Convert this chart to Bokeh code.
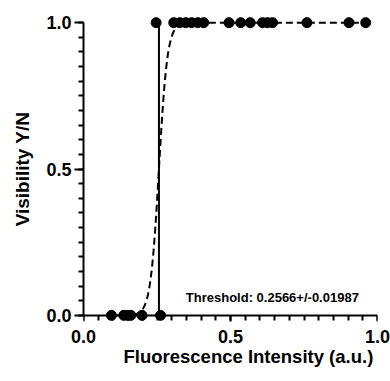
import numpy as np
from bokeh.plotting import figure
from bokeh.models import FixedTicker, Range1d, Label, LinearAxis, Title
from bokeh.embed import file_html
from bokeh.resources import INLINE

# ---- data ----
x_not_visible = [0.095, 0.137, 0.151, 0.161, 0.199, 0.262]
y_not_visible = [0, 0, 0, 0, 0, 0]
x_visible = [0.247, 0.307, 0.328, 0.348, 0.368, 0.389, 0.409, 0.495, 0.535,
             0.567, 0.609, 0.626, 0.643, 0.760, 0.903, 0.960]
y_visible = [1] * len(x_visible)

threshold = 0.2566
threshold_err = 0.01987
fit_width = 0.0145          # logistic slope parameter of the fitted curve
fit_x_min, fit_x_max = 0.095, 0.960

x_ticks = [0.0, 0.5, 1.0]
x_tick_labels = ["0.0", "0.5", "1.0"]
y_ticks = [0.0, 0.5, 1.0]
y_tick_labels = ["0.0", "0.5", "1.0"]
minor_step = 0.05
x_title = "Fluorescence Intensity (a.u.)"
y_title = "Visibility Y/N"

FONT = "Liberation Sans"

p = figure(width=390, height=381, output_backend="svg", toolbar_location=None,
           x_range=Range1d(0, 1.0), y_range=Range1d(-0.021, 1.021),
           min_border_left=83, min_border_right=13, min_border_top=16,
           min_border_bottom=60)
p.outline_line_color = None
p.grid.visible = False
p.background_fill_color = "white"

# fitted logistic curve
fx = np.linspace(fit_x_min, fit_x_max, 600)
fy = 1.0 / (1.0 + np.exp(-(fx - threshold) / fit_width))
p.line(fx, fy, line_color="black", line_width=2, line_dash="7 4")

# threshold line
p.segment(x0=[threshold], y0=[0], x1=[threshold], y1=[1],
          line_color="black", line_width=2)

# data points
p.scatter(x_not_visible, y_not_visible, size=10, color="black")
p.scatter(x_visible, y_visible, size=10, color="black")

# threshold text
p.add_layout(Label(x=0.348, y=0.0625,
                   text=f"Threshold: {threshold}+/-{threshold_err}",
                   text_font=FONT, text_font_size="13px",
                   text_font_style="bold", text_baseline="alphabetic",
                   text_color="black"))

minor_x = [round(i * minor_step, 4) for i in range(int(round(1 / minor_step)) + 1)]


def style_ticks(ax, ticks, labels, tick_out):
    ax.ticker = FixedTicker(ticks=ticks, minor_ticks=minor_x)
    ax.major_label_overrides = {t: l for t, l in zip(ticks, labels)}
    ax.axis_line_width = 2
    ax.major_tick_line_width = 2
    ax.minor_tick_line_width = 2
    ax.major_tick_in = 0
    ax.minor_tick_in = 0
    ax.major_tick_out = tick_out
    ax.minor_tick_out = 5
    ax.bounds = (0, 1)


def style_text(ax, title_size="19px"):
    ax.major_label_text_font = FONT
    ax.major_label_text_font_size = "18px"
    ax.major_label_text_font_style = "bold"
    ax.major_label_text_color = "black"
    ax.axis_label_text_font = FONT
    ax.axis_label_text_font_size = title_size
    ax.axis_label_text_font_style = "bold"
    ax.axis_label_text_color = "black"


def hide_lines(ax):
    ax.minor_tick_out = 0
    ax.axis_line_color = None
    ax.major_tick_line_color = None
    ax.minor_tick_line_color = None


# x axis: line + ticks drawn at y = 0
xa = p.xaxis[0]
style_ticks(xa, x_ticks, x_tick_labels, 10)
xa.fixed_location = 0
xa.major_label_text_alpha = 0
xa.major_label_text_font_size = "1px"

# x axis: tick labels only, in the panel below
xb = LinearAxis()
style_ticks(xb, x_ticks, x_tick_labels, 0)
style_text(xb)
hide_lines(xb)
xb.major_label_standoff = 8
p.add_layout(xb, "below")

# x axis title, placed where the reference has it
p.add_layout(Title(text=x_title, align="left", offset=40, standoff=0,
                   vertical_align="top", text_font=FONT,
                   text_font_size="18.5px", text_font_style="bold",
                   text_color="black"), "below")

ya = p.yaxis[0]
style_ticks(ya, y_ticks, y_tick_labels, 9)
style_text(ya)
ya.major_label_standoff = 3
ya.axis_label = y_title
ya.axis_label_standoff = 10

open("out.html", "w").write(file_html(p, INLINE))
